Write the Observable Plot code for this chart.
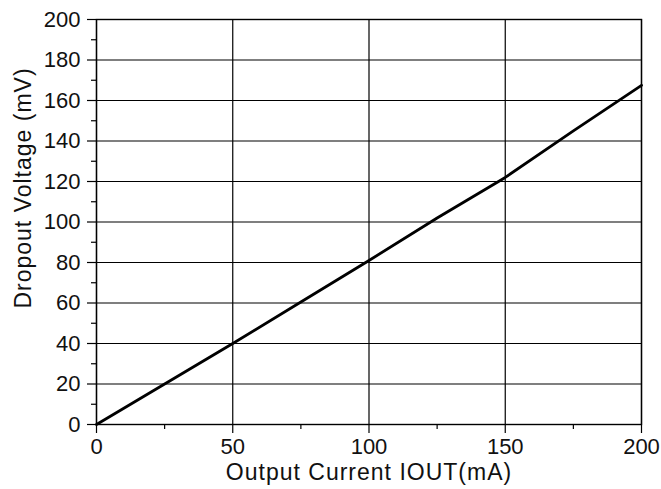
<!DOCTYPE html>
<html>
<head>
<meta charset="utf-8">
<script src="https://cdn.jsdelivr.net/npm/d3@7"></script>
<script src="https://cdn.jsdelivr.net/npm/@observablehq/plot@0.6"></script>
<style>
  html, body { margin: 0; padding: 0; background: #fff; }
  #chart { width: 661px; height: 489px; }
</style>
</head>
<body>
<div id="chart"></div>
<script>
// Data
const current = [0, 25, 50, 75, 100, 125, 150, 175, 200];          // Output Current IOUT (mA)
const dropout = [0, 20, 40, 60.5, 81, 102, 122, 145, 167.5];       // Dropout Voltage (mV)
const xTicks = [0, 50, 100, 150, 200];
const xMinorTicks = [25, 75, 125, 175];
const yTicks = [0, 20, 40, 60, 80, 100, 120, 140, 160, 180, 200];
const yMinorTicks = [10, 30, 50, 70, 90, 110, 130, 150, 170, 190];
const xLabel = "Output Current IOUT(mA)";
const yLabel = "Dropout Voltage (mV)";

const data = current.map((c, i) => ({current: c, dropout: dropout[i]}));

const chart = Plot.plot({
  width: 661,
  height: 489,
  marginLeft: 96,
  marginRight: 20,
  marginTop: 19,
  marginBottom: 65,
  style: {fontFamily: "Arial, 'Liberation Sans', sans-serif", fontSize: "22px", color: "#111", background: "#fff"},
  x: {domain: [0, 200]},
  y: {domain: [0, 200]},
  marks: [
    Plot.gridX(xTicks, {stroke: "black", strokeOpacity: 1, strokeWidth: 1.2}),
    Plot.gridY(yTicks, {stroke: "black", strokeOpacity: 1, strokeWidth: 1.2}),
    Plot.axisX(xTicks, {tickSize: 9, tickPadding: 5, label: null, fontSize: 22, strokeWidth: 1.2, stroke: "black"}),
    Plot.axisX(xMinorTicks, {tickSize: 5, tickFormat: () => "", label: null, strokeWidth: 1.2, stroke: "black"}),
    Plot.axisY(yTicks, {tickSize: 9, tickPadding: 7, label: null, fontSize: 22, strokeWidth: 1.2, stroke: "black"}),
    Plot.axisY(yMinorTicks, {tickSize: 5, tickFormat: () => "", label: null, strokeWidth: 1.2, stroke: "black"}),
    Plot.frame({stroke: "black", strokeWidth: 1.4}),
    Plot.line(data, {x: "current", y: "dropout", stroke: "black", strokeWidth: 2.8}),
    Plot.text([xLabel], {frameAnchor: "bottom", dy: 48, text: d => d, fontSize: 23, fill: "#111",
      textAnchor: "middle", lineAnchor: "middle", letterSpacing: "1px"}),
    Plot.text([yLabel], {frameAnchor: "left", dx: -73, dy: -34, rotate: -90, text: d => d, fontSize: 23,
      fill: "#111", textAnchor: "middle", lineAnchor: "middle"})
  ]
});

// letter spacing for the axis titles
d3.select(chart).selectAll("text").filter(function () {
  const t = this.textContent;
  return t === xLabel || t === yLabel;
}).attr("letter-spacing", "1px");

document.getElementById("chart").appendChild(chart);
</script>
</body>
</html>
